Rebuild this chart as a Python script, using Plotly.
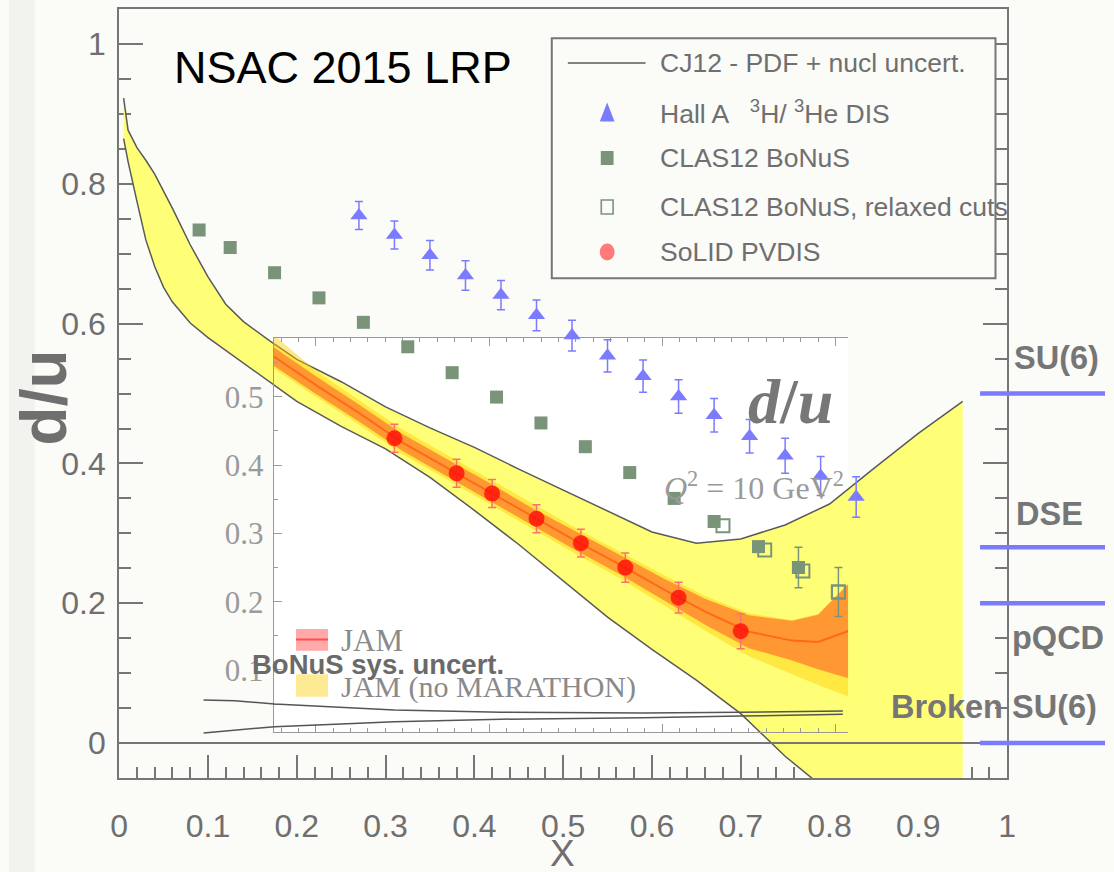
import plotly.graph_objects as go

W, H = 1114, 872

# ---------------- data ----------------
# CJ12 band (PDF + nuclear uncertainty)
cj_x = [0.005, 0.01, 0.02, 0.03, 0.04, 0.05, 0.06, 0.08, 0.10, 0.12, 0.14, 0.17, 0.20, 0.25,
        0.30, 0.35, 0.40, 0.45, 0.50, 0.55, 0.60, 0.65, 0.70, 0.75, 0.80, 0.85, 0.90, 0.95]
cj_upper = [0.923, 0.877, 0.852, 0.834, 0.814, 0.790, 0.765, 0.713, 0.667, 0.628, 0.603, 0.575, 0.549, 0.517,
            0.481, 0.451, 0.423, 0.392, 0.362, 0.332, 0.302, 0.286, 0.292, 0.312, 0.342, 0.393, 0.443, 0.489]
cj_lower = [0.865, 0.832, 0.775, 0.720, 0.682, 0.652, 0.631, 0.601, 0.580, 0.562, 0.544, 0.516, 0.489, 0.453,
            0.421, 0.380, 0.333, 0.284, 0.232, 0.180, 0.134, 0.090, 0.042, -0.019, -0.071, -0.123, -0.175, -0.227]

# Hall A 3H/3He DIS projection
hall_x = [0.27, 0.31, 0.35, 0.39, 0.43, 0.47, 0.51, 0.55, 0.59, 0.63, 0.67, 0.71, 0.75, 0.79, 0.83]
hall_y = [0.755, 0.727, 0.698, 0.669, 0.641, 0.612, 0.583, 0.554, 0.525, 0.496, 0.469, 0.439, 0.411, 0.382, 0.352]
hall_err = [0.020, 0.020, 0.021, 0.021, 0.021, 0.022, 0.022, 0.023, 0.023, 0.024, 0.024, 0.024, 0.025, 0.028, 0.029]

# CLAS12 BoNuS
bonus_x = [0.09, 0.125, 0.175, 0.225, 0.275, 0.325, 0.375, 0.425, 0.475, 0.525, 0.575, 0.625, 0.67, 0.72, 0.765]
bonus_y = [0.734, 0.709, 0.673, 0.637, 0.602, 0.567, 0.530, 0.495, 0.458, 0.424, 0.387, 0.350, 0.317, 0.281, 0.251]
bonus_err = [0, 0, 0, 0, 0, 0, 0, 0, 0, 0, 0, 0, 0, 0, 0.029]

# CLAS12 BoNuS, relaxed cuts
relax_x = [0.68, 0.727, 0.77, 0.81]
relax_y = [0.311, 0.276, 0.246, 0.216]
relax_err = [0, 0, 0, 0.035]

# SoLID PVDIS
solid_x = [0.31, 0.38, 0.42, 0.47, 0.52, 0.57, 0.63, 0.70]
solid_y = [0.436, 0.386, 0.357, 0.321, 0.286, 0.251, 0.208, 0.160]
solid_err = [0.020, 0.020, 0.020, 0.020, 0.020, 0.021, 0.022, 0.025]

# BoNuS systematic uncertainty band edges
sys_x = [0.095, 0.13, 0.175, 0.25, 0.31, 0.43, 0.59, 0.70, 0.815]
sys_hi = [0.0615, 0.0605, 0.0558, 0.0510, 0.0472, 0.0439, 0.0430, 0.0440, 0.0458]
sys_lo = [0.0143, 0.0186, 0.0233, 0.0270, 0.0305, 0.0340, 0.0360, 0.0385, 0.0410]

# JAM d/u at Q^2 = 10 GeV^2 (inset)
jam_x = [0.15, 0.20, 0.25, 0.30, 0.35, 0.40, 0.45, 0.50, 0.55, 0.60, 0.65, 0.70, 0.75, 0.78, 0.815]
jam_mid = [0.560, 0.517, 0.476, 0.433, 0.397, 0.361, 0.324, 0.289, 0.255, 0.219, 0.185, 0.156, 0.143, 0.141, 0.157]
jam_upper = [0.5735, 0.530, 0.4885, 0.4455, 0.4095, 0.374, 0.337, 0.3025, 0.269, 0.235, 0.204, 0.180, 0.172, 0.181, 0.226]
jam_lower = [0.5465, 0.504, 0.4635, 0.4205, 0.3845, 0.348, 0.311, 0.2755, 0.241, 0.203, 0.166, 0.132, 0.114, 0.101, 0.088]
nomar_upper = [0.592, 0.538, 0.495, 0.452, 0.416, 0.380, 0.343, 0.308, 0.274, 0.240, 0.208, 0.183, 0.173, 0.182, 0.227]
nomar_lower = [0.543, 0.500, 0.459, 0.416, 0.380, 0.343, 0.306, 0.270, 0.235, 0.196, 0.157, 0.120, 0.094, 0.078, 0.061]

# theory expectations at x -> 1
theory_names = ["SU(6)", "DSE", "pQCD", "Broken SU(6)"]
theory_vals = [0.5, 0.28, 0.2, 0.0]

# axis ticks
x_ticks = [0, 0.1, 0.2, 0.3, 0.4, 0.5, 0.6, 0.7, 0.8, 0.9, 1.0]
x_ticktext = ["0", "0.1", "0.2", "0.3", "0.4", "0.5", "0.6", "0.7", "0.8", "0.9", "1"]
y_ticks = [0, 0.2, 0.4, 0.6, 0.8, 1.0]
y_ticktext = ["0", "0.2", "0.4", "0.6", "0.8", "1"]
inset_yticks = [0.1, 0.2, 0.3, 0.4, 0.5]
inset_yticktext = ["0.1", "0.2", "0.3", "0.4", "0.5"]
inset_xticks = [0.2, 0.4, 0.6, 0.8]

# ---------------- style ----------------
SANS = "Liberation Sans, Arial, sans-serif"
SERIF = "Liberation Serif, Times New Roman, DejaVu Serif, serif"
GRAY = "#767676"
TXT = "#6f6f6f"
BLUE = "#7b7bff"
GREEN = "#7a947a"
YELLOW = "#ffff77"


def px(xp):
    return xp / W


def py(yp):
    return 1 - yp / H


MAIN_X = [px(112), px(1014.5)]
MAIN_Y = [py(777.9), py(9.3)]
INSET_X = [px(269), px(853)]
INSET_Y = [py(732), py(338)]

fig = go.Figure()

# CJ12 band
fig.add_trace(go.Scatter(x=cj_x, y=cj_upper, mode="lines", line=dict(color="#5a5a5a", width=1.5),
                         xaxis="x", yaxis="y", hoverinfo="skip"))
fig.add_trace(go.Scatter(x=cj_x, y=cj_lower, mode="lines", line=dict(color="#5a5a5a", width=1.5),
                         fill="tonexty", fillcolor=YELLOW, xaxis="x", yaxis="y", hoverinfo="skip"))

# JAM bands (inset axes)
fig.add_trace(go.Scatter(x=jam_x, y=nomar_upper, mode="lines", line=dict(width=0),
                         xaxis="x2", yaxis="y2", hoverinfo="skip"))
fig.add_trace(go.Scatter(x=jam_x, y=nomar_lower, mode="lines", line=dict(width=0),
                         fill="tonexty", fillcolor="rgba(255,205,0,0.45)", xaxis="x2", yaxis="y2",
                         hoverinfo="skip"))
fig.add_trace(go.Scatter(x=jam_x, y=jam_upper, mode="lines", line=dict(width=0),
                         xaxis="x2", yaxis="y2", hoverinfo="skip"))
fig.add_trace(go.Scatter(x=jam_x, y=jam_lower, mode="lines", line=dict(width=0),
                         fill="tonexty", fillcolor="rgba(255,30,30,0.40)", xaxis="x2", yaxis="y2",
                         hoverinfo="skip"))
fig.add_trace(go.Scatter(x=jam_x, y=jam_mid, mode="lines", line=dict(color="rgba(255,70,0,0.55)", width=2),
                         xaxis="x2", yaxis="y2", hoverinfo="skip"))

# data points drawn on a main-coordinate overlay above the inset
fig.add_trace(go.Scatter(x=sys_x, y=sys_hi, mode="lines", line=dict(color="#555555", width=1.5),
                         xaxis="x3", yaxis="y3"))
fig.add_trace(go.Scatter(x=sys_x, y=sys_lo, mode="lines", line=dict(color="#555555", width=1.5),
                         xaxis="x3", yaxis="y3"))

fig.add_trace(go.Scatter(x=bonus_x, y=bonus_y, mode="markers",
                         marker=dict(symbol="square", size=13, color=GREEN),
                         xaxis="x3", yaxis="y3"))
be = [i for i, e in enumerate(bonus_err) if e > 0]
fig.add_trace(go.Scatter(x=[bonus_x[i] for i in be], y=[bonus_y[i] for i in be], mode="markers",
                         marker=dict(symbol="square", size=13, color=GREEN),
                         error_y=dict(type="data", array=[bonus_err[i] for i in be], color=GREEN,
                                      thickness=1.5, width=4),
                         xaxis="x3", yaxis="y3"))

re_ = [i for i, e in enumerate(relax_err) if e > 0]
fig.add_trace(go.Scatter(x=[relax_x[i] for i in re_], y=[relax_y[i] for i in re_], mode="markers",
                         marker=dict(symbol="square-open", size=13, color=GREEN, line=dict(width=2)),
                         error_y=dict(type="data", array=[relax_err[i] for i in re_], color=GREEN,
                                      thickness=1.5, width=4),
                         xaxis="x3", yaxis="y3"))
fig.add_trace(go.Scatter(x=relax_x, y=relax_y, mode="markers",
                         marker=dict(symbol="square-open", size=13, color=GREEN, line=dict(width=2)),
                         xaxis="x3", yaxis="y3"))

fig.add_trace(go.Scatter(x=hall_x, y=hall_y, mode="markers",
                         marker=dict(symbol="triangle-up", size=15, color=BLUE),
                         error_y=dict(type="data", array=hall_err, color=BLUE, thickness=1.5, width=4),
                         xaxis="x3", yaxis="y3"))

fig.add_trace(go.Scatter(x=solid_x, y=solid_y, mode="markers",
                         marker=dict(symbol="circle", size=16, color="rgba(255,0,0,0.72)"),
                         error_y=dict(type="data", array=solid_err, color="#ff6f6f", thickness=1.5, width=4),
                         xaxis="x3", yaxis="y3"))

# ---------------- axes ----------------
tickfont_main = dict(family=SANS, size=32, color=TXT)
fig.update_layout(
    xaxis=dict(domain=MAIN_X, range=[0, 1], tickmode="array", tickvals=x_ticks, ticktext=x_ticktext,
               ticks="inside", ticklen=23, tickwidth=2, tickcolor=GRAY,
               minor=dict(dtick=0.02, tick0=0, ticks="inside", ticklen=11, tickwidth=2, tickcolor=GRAY),
               showline=True, linecolor=GRAY, linewidth=2, mirror=True, showgrid=False, zeroline=False,
               tickfont=tickfont_main, ticklabelstandoff=19, layer="below traces", anchor="y",
               fixedrange=True),
    yaxis=dict(domain=MAIN_Y, range=[-0.05, 1.05], tickmode="array", tickvals=y_ticks, ticktext=y_ticktext,
               ticks="inside", ticklen=24, tickwidth=2, tickcolor=GRAY,
               minor=dict(dtick=0.05, tick0=0, ticks="inside", ticklen=12, tickwidth=2, tickcolor=GRAY),
               showline=True, linecolor=GRAY, linewidth=2, mirror="ticks", showgrid=False, zeroline=False,
               tickfont=tickfont_main, ticklabelstandoff=5, layer="below traces", anchor="x",
               fixedrange=True),
    xaxis2=dict(domain=INSET_X, range=[0.1511, 0.8148], tickmode="array", tickvals=inset_xticks,
                ticks="inside", ticklen=8, tickwidth=1, tickcolor="#9a9a9a",
                minor=dict(dtick=0.02, tick0=0, ticks="inside", ticklen=4, tickwidth=1, tickcolor="#9a9a9a"),
                showline=True, linecolor="#9a9a9a", linewidth=1, mirror="ticks", showgrid=False,
                zeroline=False, showticklabels=False, anchor="y2"),
    yaxis2=dict(domain=INSET_Y, range=[0.0092, 0.5861], tickmode="array", tickvals=inset_yticks,
                ticktext=inset_yticktext, ticks="inside", ticklen=8, tickwidth=1, tickcolor="#9a9a9a",
                minor=dict(dtick=0.05, tick0=0, ticks="inside", ticklen=4, tickwidth=1, tickcolor="#9a9a9a"),
                showline=True, linecolor="#9a9a9a", linewidth=1, showgrid=False, zeroline=False,
                tickfont=dict(family=SERIF, size=31, color="#9a9a9a"), ticklabelstandoff=3, anchor="x2"),
    xaxis3=dict(domain=MAIN_X, range=[0, 1], visible=False, anchor="y3"),
    yaxis3=dict(domain=MAIN_Y, range=[-0.05, 1.05], visible=False, anchor="x3"),
)

# ---------------- shapes ----------------
shapes = []
shapes.append(dict(type="rect", xref="paper", yref="paper", x0=0, x1=px(26), y0=0, y1=1,
                   fillcolor="#f2f2ee", line=dict(width=0), layer="below"))
shapes.append(dict(type="rect", xref="paper", yref="paper", x0=INSET_X[0], x1=INSET_X[1],
                   y0=INSET_Y[0], y1=INSET_Y[1], fillcolor="#ffffff", line=dict(width=0), layer="below"))
# y = 0 reference line
shapes.append(dict(type="line", xref="paper", yref="y", x0=px(112), x1=px(987), y0=0, y1=0,
                   line=dict(color=GRAY, width=2), layer="above"))
# theory markers on the right
for v in theory_vals:
    shapes.append(dict(type="line", xref="paper", yref="y", x0=px(987), x1=1.0, y0=v, y1=v,
                       line=dict(color=BLUE, width=4.5), layer="above"))

# legend box and keys
LEG = dict(x0=551.7, x1=1002.7, y0=38.3, y1=278.3)
shapes.append(dict(type="rect", xref="paper", yref="paper", x0=px(LEG["x0"]), x1=px(LEG["x1"]),
                   y0=py(LEG["y1"]), y1=py(LEG["y0"]), fillcolor="#fbfbf8",
                   line=dict(color=GRAY, width=2), layer="above"))
rows = [63, 112, 158, 207, 252]
kx = 608
shapes.append(dict(type="line", xref="paper", yref="paper", x0=px(568), x1=px(647), y0=py(rows[0]),
                   y1=py(rows[0]), line=dict(color="#5a5a5a", width=1.5), layer="above"))
shapes.append(dict(type="path", xref="paper", yref="paper", layer="above", fillcolor=BLUE,
                   line=dict(width=0),
                   path="M {:.5f},{:.5f} L {:.5f},{:.5f} L {:.5f},{:.5f} Z".format(
                       px(kx - 7.5), py(rows[1] + 9.5), px(kx + 7.5), py(rows[1] + 9.5),
                       px(kx), py(rows[1] - 9.5))))
shapes.append(dict(type="rect", xref="paper", yref="paper", x0=px(kx - 6.5), x1=px(kx + 6.5),
                   y0=py(rows[2] + 7), y1=py(rows[2] - 7), fillcolor=GREEN, line=dict(width=0),
                   layer="above"))
shapes.append(dict(type="rect", xref="paper", yref="paper", x0=px(kx - 6), x1=px(kx + 6),
                   y0=py(rows[3] + 7), y1=py(rows[3] - 7), fillcolor="rgba(0,0,0,0)",
                   line=dict(color=GREEN, width=1.6), layer="above"))
shapes.append(dict(type="circle", xref="paper", yref="paper", x0=px(kx - 7.5), x1=px(kx + 7.5),
                   y0=py(rows[4] + 8.5), y1=py(rows[4] - 8.5), fillcolor="#ff7b7b", line=dict(width=0),
                   layer="above"))

# inset legend swatches
shapes.append(dict(type="rect", xref="paper", yref="paper", x0=px(291.7), x1=px(324.3), y0=py(650.7),
                   y1=py(629), fillcolor="rgba(255,40,40,0.4)", line=dict(width=0), layer="above"))
shapes.append(dict(type="line", xref="paper", yref="paper", x0=px(291.7), x1=px(324.3), y0=py(639.5),
                   y1=py(639.5), line=dict(color="rgba(255,50,50,0.75)", width=2), layer="above"))
shapes.append(dict(type="rect", xref="paper", yref="paper", x0=px(291.7), x1=px(324.3), y0=py(696.7),
                   y1=py(674.3), fillcolor="rgba(255,205,0,0.42)", line=dict(width=0), layer="above"))

# ---------------- text ----------------
def ann(text, x, y, size, color, family, xanchor="center", yanchor="middle", angle=0):
    return dict(text=text, x=px(x), y=py(y), xref="paper", yref="paper", showarrow=False,
                font=dict(size=size, color=color, family=family), xanchor=xanchor, yanchor=yanchor,
                textangle=angle)


LEG_FS = 26.5
anns = [
    ann("NSAC 2015 LRP", 166, 68, 45, "#000000", SANS, xanchor="left"),
    ann("<b>d/u</b>", 36, 397, 64, TXT, SANS, angle=-90),
    ann("X", 563, 853, 37, TXT, SANS),
    ann("<b><i>d</i>/<i>u</i></b>", 794, 401, 64, "#777777", SERIF),
    ann("<i>Q</i><sup>2</sup> = 10 GeV<sup>2</sup>", 757, 486, 32, "#9a9a9a", SERIF),
    ann("JAM", 335, 640, 31, "#8a8a8a", SERIF, xanchor="left"),
    ann("JAM (no MARATHON)", 335, 687, 30, "#8a8a8a", SERIF, xanchor="left"),
    ann("<b>BoNuS sys. uncert.</b>", 375, 664, 27.5, "#6a6a6a", SANS),
    ann("CJ12 - PDF + nucl uncert.", 660, rows[0], LEG_FS, TXT, SANS, xanchor="left"),
    ann("Hall A   <sup>3</sup>H/ <sup>3</sup>He DIS", 660, rows[1], LEG_FS, TXT, SANS, xanchor="left"),
    ann("CLAS12 BoNuS", 660, rows[2], LEG_FS, TXT, SANS, xanchor="left"),
    ann("CLAS12 BoNuS, relaxed cuts", 660, rows[3], LEG_FS, TXT, SANS, xanchor="left"),
    ann("SoLID PVDIS", 660, rows[4], LEG_FS, TXT, SANS, xanchor="left"),
]
theory_pos = [(1019, 358), (1021, 514), (1017, 638), (894, 707)]
for name, (tx, ty) in zip(theory_names, theory_pos):
    anns.append(ann("<b>" + name + "</b>", tx, ty, 32.5, GRAY, SANS, xanchor="left"))

fig.update_layout(
    width=W, height=H, margin=dict(l=0, r=0, t=0, b=0),
    paper_bgcolor="#fbfbf8", plot_bgcolor="rgba(0,0,0,0)",
    showlegend=False, shapes=shapes, annotations=anns,
    font=dict(family=SANS, color=TXT),
)

fig.write_html("out.html")
